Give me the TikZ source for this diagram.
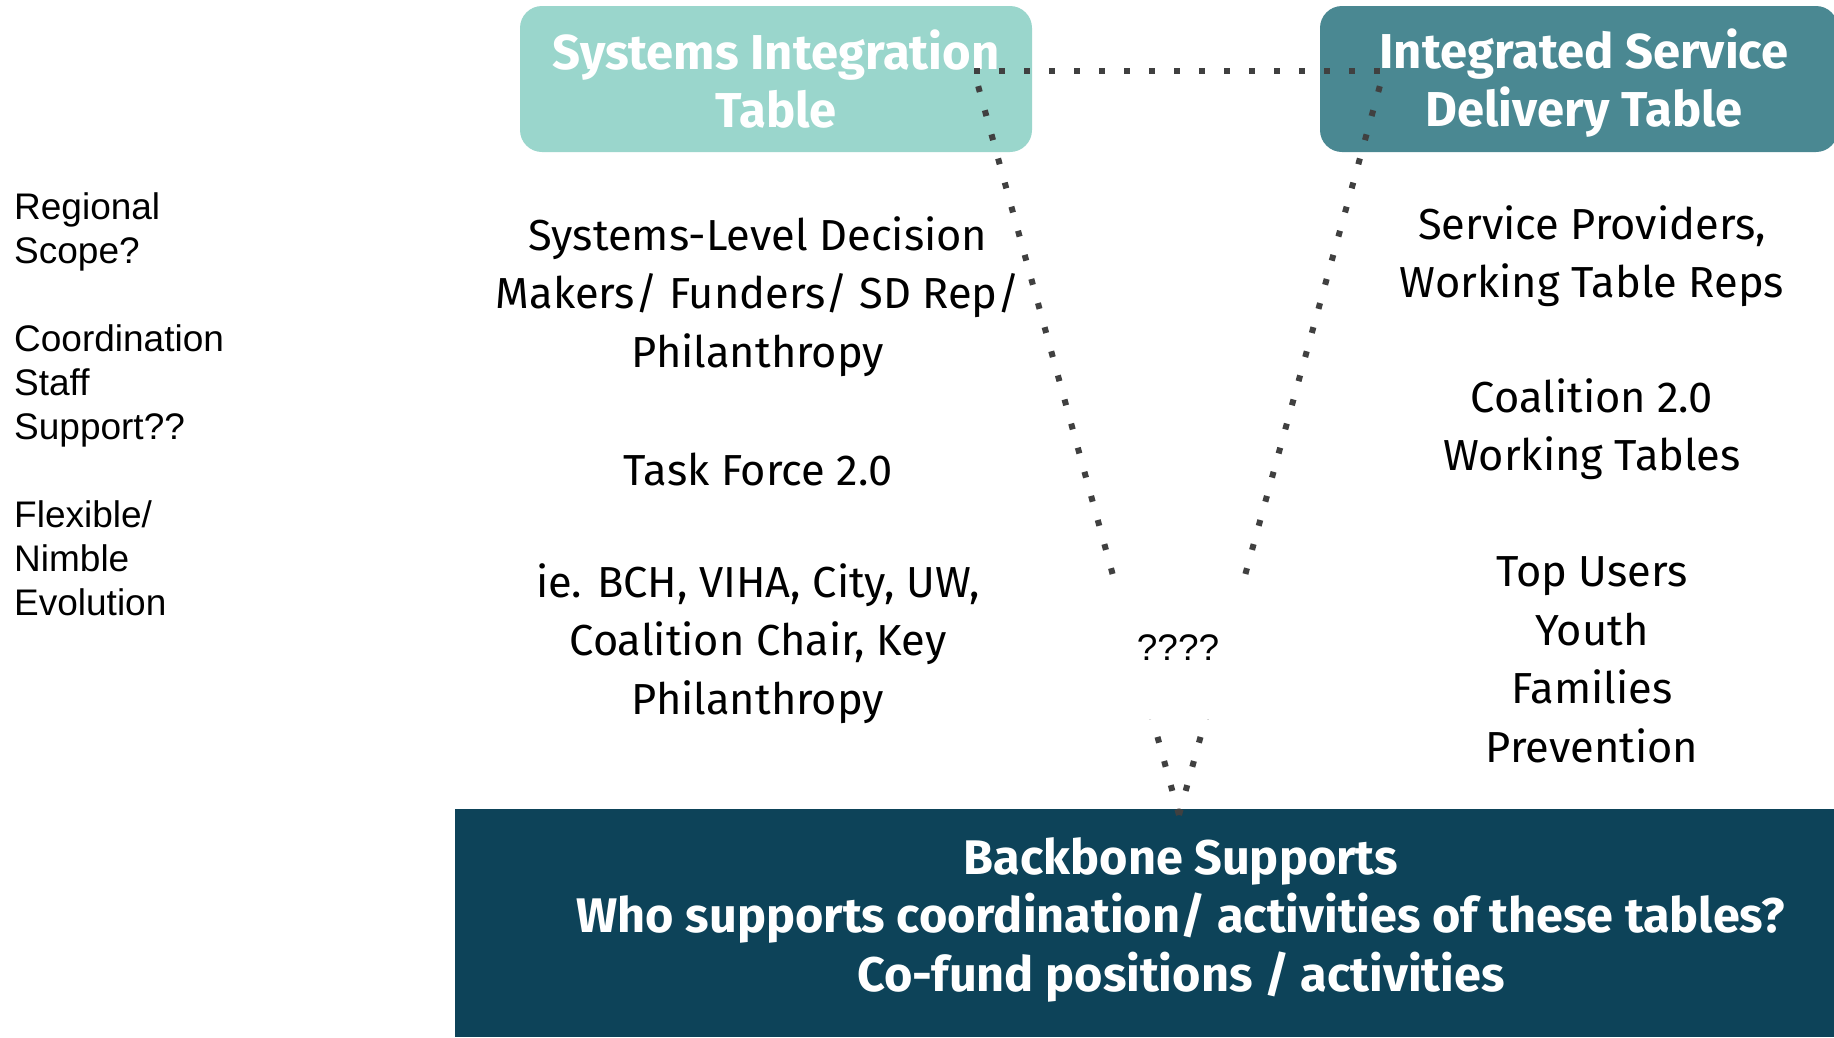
\documentclass[tikz,border=0pt]{standalone}
\usepackage{fontspec}
\setmainfont{Fira Sans}
\newfontfamily\arialf{Liberation Sans}
\definecolor{sitcol}{RGB}{154,214,204}
\definecolor{isdcol}{RGB}{74,136,146}
\definecolor{bbcol}{RGB}{13,67,89}
\definecolor{dotcol}{RGB}{64,64,64}
\begin{document}
\begin{tikzpicture}[x=1pt,y=-1pt,
  tablebox/.style={rounded corners=22pt, inner sep=0pt, minimum height=146pt},
  boxtext/.style={text=white, align=center, inner sep=0pt,
    font=\fontsize{49}{58}\selectfont\bfseries},
  bodytext/.style={align=center, inner sep=0pt, font=\fontsize{43.4}{58.5}\selectfont},
  sidetext/.style={align=left, anchor=west, inner sep=0pt, font=\arialf\fontsize{37}{44}\selectfont},
  dotline/.style={draw=dotcol, line width=6pt, dash pattern=on 6pt off 19pt}
]
\path[use as bounding box, fill=white] (0,0) rectangle (1834,1037);

% top boxes
\node[tablebox, fill=sitcol, minimum width=512pt] (sit) at (776,79) {};
\node[boxtext] (sittext) at (776,79) {Systems Integration\\Table};
\node[tablebox, fill=isdcol, minimum width=518pt] (isd) at (1579,79) {};
\node[boxtext] (isdtext) at (1584,83) {Integrated Service\\Delivery Table};

% backbone box
\node[fill=bbcol, minimum width=1379pt, minimum height=228pt, inner sep=0pt] (bb) at (1144.5,923) {};
\node[align=center, text=white, inner sep=0pt, font=\fontsize{48.6}{58.5}\selectfont\bfseries] (bbtext) at (1181,919.5)
  {Backbone Supports\\Who supports coordination/ activities of these tables?\\Co-fund positions / activities};

% dotted triangle
\coordinate (tl) at (974,71);
\coordinate (tr) at (1384,71);
\coordinate (apex) at (1179,815);
\draw[dotline] (tl) -- (tr);
\draw[dotline] (apex) -- (tl);
\draw[dotline] (apex) -- (tr);

% question node
\node[fill=white, minimum width=170pt, minimum height=138pt, inner sep=0pt,
  font=\arialf\fontsize{37}{44}\selectfont] (q) at (1178,650) {\raisebox{5pt}{????}};

% middle column
\node[bodytext] (m1) at (758,296.5) {Systems-Level Decision\\Makers/ Funders/ SD Rep/\\Philanthropy};
\node[bodytext] (m2) at (758,469.5) {Task Force 2.0};
\node[bodytext] (m3) at (758,643.5) {ie. BCH, VIHA, City, UW,\\Coalition Chair, Key\\Philanthropy};

% right column
\node[bodytext] (r1) at (1592,256) {Service Providers,\\Working Table Reps};
\node[bodytext] (r2) at (1592,429) {Coalition 2.0\\Working Tables};
\node[bodytext] (r3) at (1592,660) {Top Users\\Youth\\Families\\Prevention};

% left column
\node[sidetext] (l1) at (14,231.5) {Regional\\Scope?};
\node[sidetext] (l2) at (14,385.5) {Coordination\\Staff\\Support??};
\node[sidetext] (l3) at (14,558) {Flexible/\\Nimble\\Evolution};
\end{tikzpicture}
\end{document}
